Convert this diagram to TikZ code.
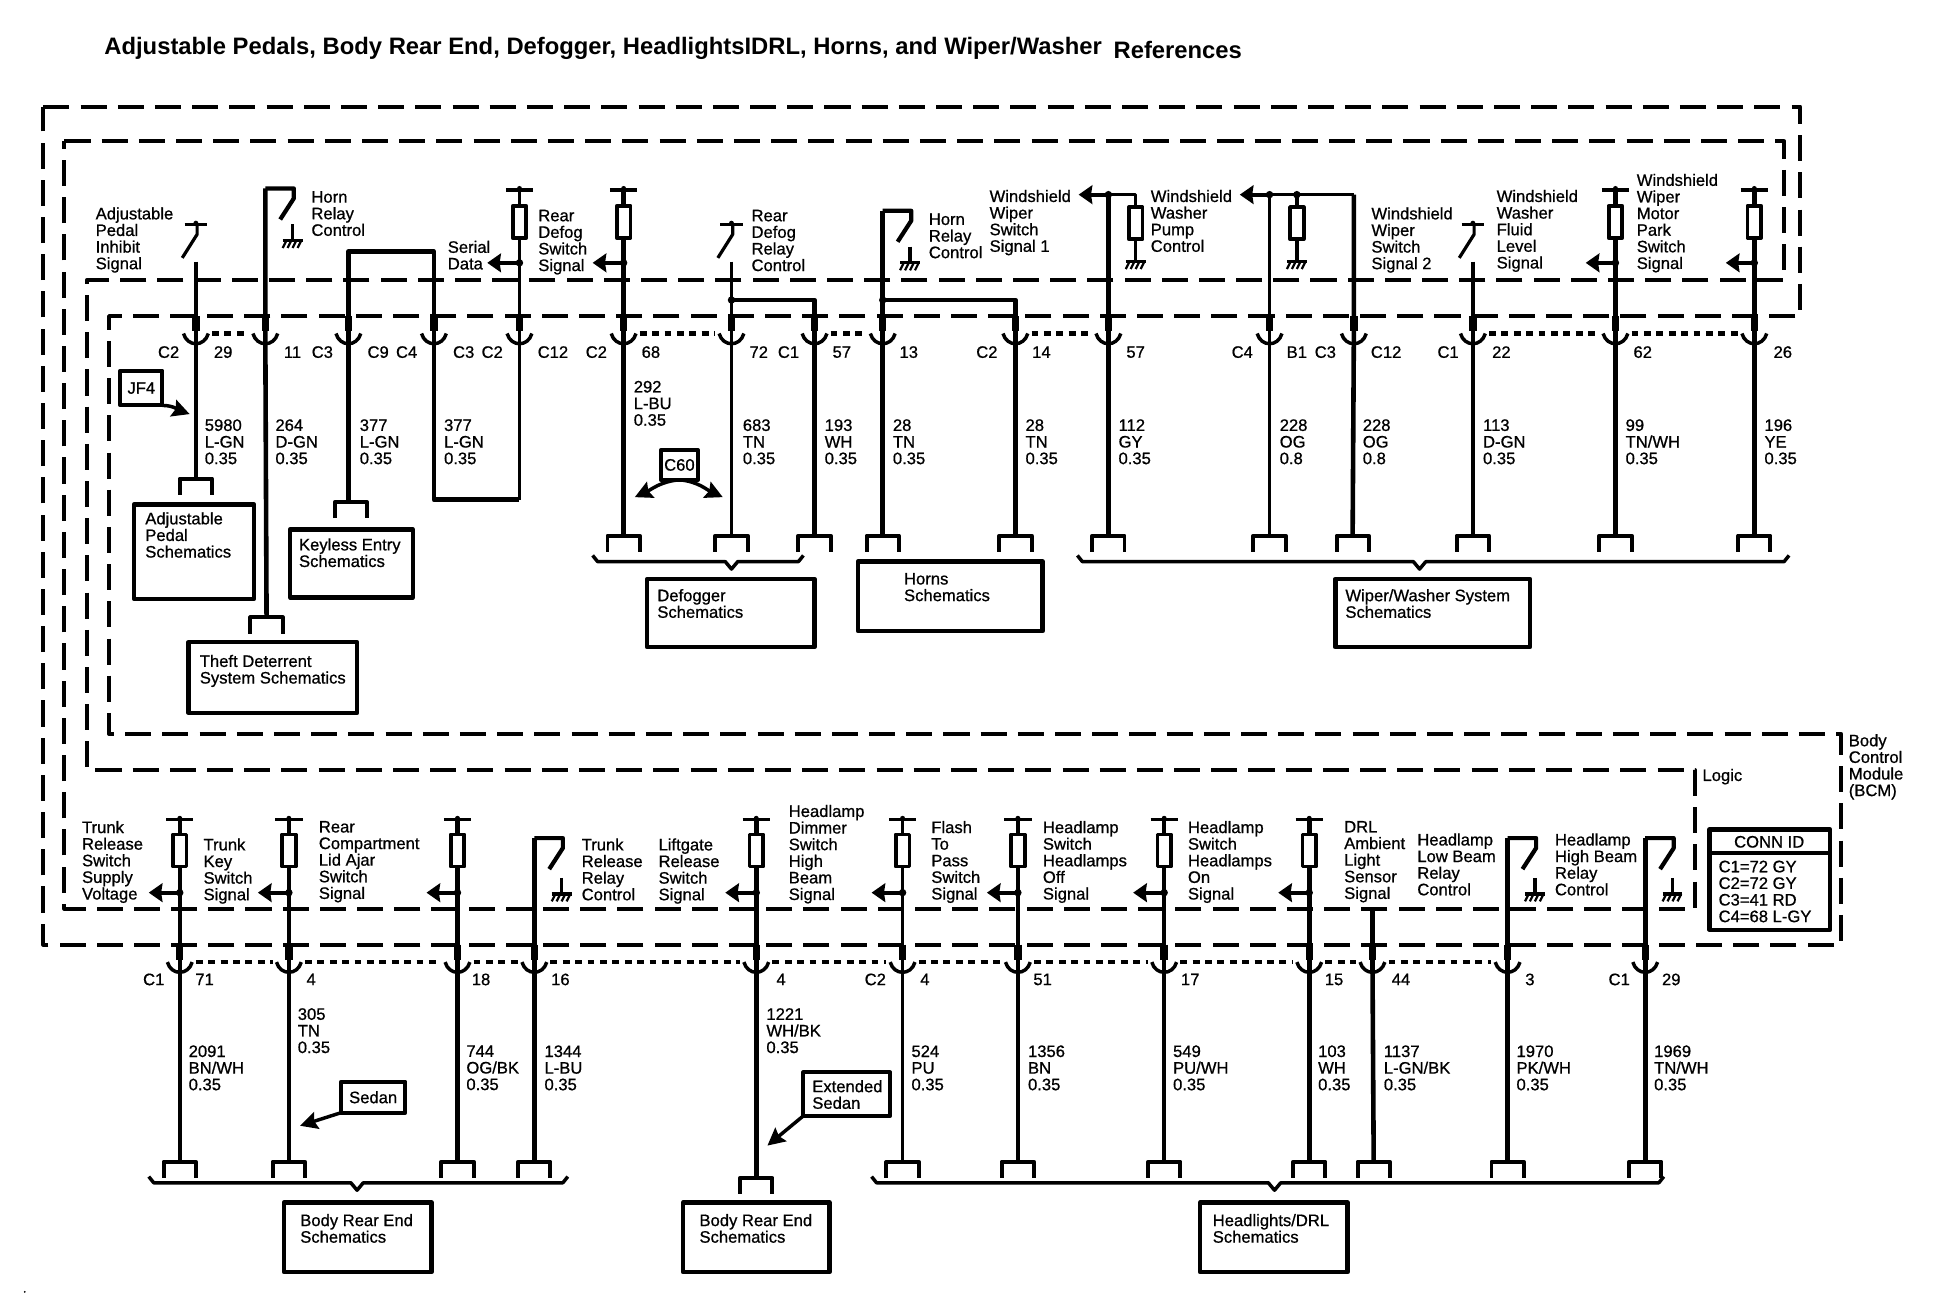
\documentclass[tikz,border=0pt]{standalone}
\usepackage{fontspec}
\usetikzlibrary{arrows.meta}
\newfontfamily\wirefont[FakeBold=0.8]{Liberation Sans}
\newfontfamily\titlefont{Liberation Sans Bold}

\begin{document}
\begin{tikzpicture}[
  x=1pt, y=-1pt,
  line join=round,
  lbl/.style={anchor=north west, inner sep=0pt, align=left, font=\wirefont\fontsize{13.4}{13.4}\selectfont},
  pinlbl/.style={inner sep=0pt, font=\wirefont\fontsize{13.4}{13.4}\selectfont},
  outline/.style={draw, line width=3.2pt, dash pattern=on 21pt off 9pt},
  wire/.style={draw, line width=3.7pt},
  thinwire/.style={draw, line width=2.8pt},
  shell/.style={draw, line width=3.4pt, dash pattern=on 5.5pt off 4.5pt, shorten <=13pt, shorten >=13pt},
  fuse/.style={rectangle, draw, line width=3pt, fill=white, minimum width=11pt, minimum height=26pt, inner sep=0pt},
  schem/.style={rectangle, draw, line width=3.6pt, fill=white, outer sep=0pt},
  tagbox/.style={rectangle, draw, line width=3.2pt, fill=white, outer sep=0pt},
  sig/.style={draw, line width=3pt, -{Stealth[length=11pt,width=15pt,inset=1pt]}},
  callout/.style={draw, line width=2.8pt, -{Stealth[length=14pt,width=14pt,inset=2pt]}},
  brace/.style={draw, line width=2.8pt},
  cup/.pic={
    \draw[line width=6pt] (0,-14) -- (0,-2);
    \draw[line width=2.8pt] (-10,0) .. controls (-7,11) and (7,11) .. (10,0);
  },
  brk/.pic={\draw[line width=3.2pt] (-13,13) -- (-13,0) -- (13,0) -- (13,13);},
  tbar/.pic={
    \draw[line width=3pt] (-11,0) -- (11,0);
    \fill (0,-1) circle (2);
  },
  blade/.pic={
    \draw[line width=3pt] (-9,0) -- (9,0);
    \fill (0,-1) circle (2);
    \draw[line width=2.6pt] (1,0) -- (1,8) -- (-11,27);
  },
  relay/.pic={\draw[line width=3.4pt] (0,0) -- (23,0) -- (23,8) -- (12,25);},
  gnd/.pic={
    \draw[line width=2.8pt] (0,0) -- (0,13);
    \draw[line width=2.6pt] (-8,13) -- (8,13);
    \draw[line width=1.8pt] (-5,13) -- (-8,19) (-1,13) -- (-4,19) (3,13) -- (0,19) (7,13) -- (4,19);
  },
  sdot/.pic={\fill (0,0) circle (3);}
]
\useasboundingbox (0,0) rectangle (1568,1058.2);

% Title
\node[anchor=base west, inner sep=0pt, font=\titlefont\fontsize{19.2}{20}\selectfont] (title) at (84,44) {Adjustable Pedals, Body Rear End, Defogger, HeadlightsIDRL, Horns, and Wiper/Washer};
\node[anchor=base west, inner sep=0pt, font=\titlefont\fontsize{19.2}{20}\selectfont] (title2) at (898,47) {References};

% Module outlines
\draw[outline] (35,86) -- (1452,86) -- (1452,255) -- (88,255) -- (88,592) -- (1485,592) -- (1485,762) -- (35,762) -- cycle;
\draw[outline] (52,114) -- (1439,114) -- (1439,226) -- (70,226) -- (70,621) -- (1367,621) -- (1367,733) -- (52,733) -- cycle;
\node[lbl] (logic) at (1373,620) {Logic};
\node[lbl] (bcm) at (1491,592) {Body\\Control\\Module\\(BCM)};

% Upper connector pins
\coordinate (p1) at (158,269);  \coordinate (p2) at (214,269);  \coordinate (p3) at (281,269);  \coordinate (p4) at (350,269);
\coordinate (p5) at (419,269);  \coordinate (p6) at (503,269);  \coordinate (p7) at (590,269);  \coordinate (p8) at (657,269);
\coordinate (p9) at (712,269);  \coordinate (p10) at (819,269); \coordinate (p11) at (894,269); \coordinate (p12) at (1024,269);
\coordinate (p13) at (1092,269);\coordinate (p14) at (1188,269);\coordinate (p15) at (1303,269);\coordinate (p16) at (1415,269);
\draw[shell] (p1) -- (p2);
\draw[shell] (p6) -- (p7);
\draw[shell] (p8) -- (p9);
\draw[shell] (p10) -- (p11);
\draw[shell] (p14) -- (p15);
\draw[shell] (p15) -- (p16);
\pic at (p1) {cup}; \pic at (p2) {cup}; \pic at (p3) {cup}; \pic at (p4) {cup};
\pic at (p5) {cup}; \pic at (p6) {cup}; \pic at (p7) {cup}; \pic at (p8) {cup};
\pic at (p9) {cup}; \pic at (p10) {cup}; \pic at (p11) {cup}; \pic at (p12) {cup};
\pic at (p13) {cup}; \pic at (p14) {cup}; \pic at (p15) {cup}; \pic at (p16) {cup};

% Upper brackets
\coordinate (b1) at (158,386);  \coordinate (b2) at (215,498);  \coordinate (b3) at (283,405);
\coordinate (b6) at (503,432);  \coordinate (b7) at (590,432);  \coordinate (b8) at (657,432);  \coordinate (b9) at (712,432);
\coordinate (b10) at (819,432); \coordinate (b11) at (894,432); \coordinate (b12) at (1024,432);\coordinate (b13) at (1091,432);
\coordinate (b14) at (1188,432);\coordinate (b15) at (1303,432);\coordinate (b16) at (1415,432);
\pic at (b1) {brk}; \pic at (b2) {brk}; \pic at (b3) {brk}; \pic at (b6) {brk}; \pic at (b7) {brk}; \pic at (b8) {brk}; \pic at (b9) {brk};
\pic at (b10) {brk}; \pic at (b11) {brk}; \pic at (b12) {brk}; \pic at (b13) {brk}; \pic at (b14) {brk}; \pic at (b15) {brk}; \pic at (b16) {brk};

% Adjustable pedal, horn relay
\coordinate (t1) at (158,181); \coordinate (s1) at (158,211);
\pic at (t1) {blade};
\draw[thinwire] (s1) -- (p1) -- (b1);
\coordinate (t2) at (214,152); \coordinate (g2) at (236,181);
\pic at (t2) {relay}; \pic at (g2) {gnd};
\draw[wire] (t2) -- (p2) -- (b2);

% Keyless entry loop and serial data
\coordinate (k3) at (281,203); \coordinate (k4) at (350,203); \coordinate (k5) at (350,403); \coordinate (k6) at (419,403);
\draw[wire] (b3 -| p3) -- (p3) -- (k3) -- (k4) -- (p4) -- (k5) -- (k6);
\coordinate (t5) at (419,153); \node[fuse] (r5) at (419,179) {}; \coordinate (d5) at (419,212); \coordinate (a5) at (393,212);
\pic at (t5) {tbar};
\draw[thinwire] (t5) -- (r5) -- (p5) -- (k6);
\draw[sig] (d5) -- (a5); \pic at (d5) {sdot};
\coordinate (t6) at (503,153); \node[fuse] (r6) at (503,179) {}; \coordinate (d6) at (503,212); \coordinate (a6) at (478,212);
\pic at (t6) {tbar};
\draw[wire] (t6) -- (r6) -- (p6) -- (b6);
\draw[sig] (d6) -- (a6); \pic at (d6) {sdot};

% Defogger relay, horn relay
\coordinate (t7) at (590,181); \coordinate (s7) at (590,211); \coordinate (d7) at (590,242); \coordinate (k8) at (657,242);
\pic at (t7) {blade};
\draw[thinwire] (s7) -- (p7) -- (b7);
\draw[wire] (d7) -- (k8) -- (p8) -- (b8); \pic at (d7) {sdot};
\coordinate (t9) at (712,170); \coordinate (g9) at (734,199); \coordinate (d9) at (712,242); \coordinate (k10) at (819,242);
\pic at (t9) {relay}; \pic at (g9) {gnd};
\draw[wire] (t9) -- (p9) -- (b9);
\draw[wire] (d9) -- (k10) -- (p10) -- (b10); \pic at (d9) {sdot};

% Wiper switch signals and washer pump
\coordinate (d11) at (894,157); \coordinate (a11) at (870,157); \coordinate (k11) at (916,157); \node[fuse] (r11) at (916,180) {}; \coordinate (g11) at (916,198);
\draw[wire] (d11) -- (p11) -- (b11);
\draw[thinwire] (d11) -- (k11) -- (r11) -- (g11); \pic at (g11) {gnd};
\draw[sig] (d11) -- (a11); \pic at (d11) {sdot};
\coordinate (d12) at (1024,157); \coordinate (a12) at (1000,157); \coordinate (k12) at (1046,157); \node[fuse] (r12) at (1046,180) {}; \coordinate (g12) at (1046,198); \coordinate (k13) at (1092,157);
\draw[thinwire] (d12) -- (p12) -- (b12);
\draw[thinwire] (k12) -- (r12) -- (g12); \pic at (g12) {gnd};
\draw[thinwire] (d12) -- (k13);
\draw[wire] (k13) -- (p13) -- (b13);
\draw[sig] (d12) -- (a12); \pic at (d12) {sdot}; \pic at (k12) {sdot};

% Washer fluid, wiper motor park
\coordinate (t14) at (1188,181); \coordinate (s14) at (1188,211);
\pic at (t14) {blade};
\draw[thinwire] (s14) -- (p14) -- (b14);
\coordinate (t15) at (1303,153); \node[fuse] (r15) at (1303,179) {}; \coordinate (d15) at (1303,212); \coordinate (a15) at (1279,212);
\pic at (t15) {tbar};
\draw[wire] (t15) -- (r15) -- (p15) -- (b15);
\draw[sig] (d15) -- (a15); \pic at (d15) {sdot};
\coordinate (t16) at (1415,153); \node[fuse] (r16) at (1415,179) {}; \coordinate (d16) at (1415,212); \coordinate (a16) at (1392,212);
\pic at (t16) {tbar};
\draw[wire] (t16) -- (r16) -- (p16) -- (b16);
\draw[sig] (d16) -- (a16); \pic at (d16) {sdot};

% Upper signal names
\node[lbl] (n1) at (77,167) {Adjustable\\Pedal\\Inhibit\\Signal};
\node[lbl] (n2) at (251,154) {Horn\\Relay\\Control};
\node[lbl] (n3) at (361,194) {Serial\\Data};
\node[lbl] (n4) at (434,169) {Rear\\Defog\\Switch\\Signal};
\node[lbl] (n5) at (606,169) {Rear\\Defog\\Relay\\Control};
\node[lbl] (n6) at (749,172) {Horn\\Relay\\Control};
\node[lbl] (n7) at (798,153) {Windshield\\Wiper\\Switch\\Signal 1};
\node[lbl] (n8) at (928,153) {Windshield\\Washer\\Pump\\Control};
\node[lbl] (n9) at (1106,167) {Windshield\\Wiper\\Switch\\Signal 2};
\node[lbl] (n10) at (1207,153) {Windshield\\Washer\\Fluid\\Level\\Signal};
\node[lbl] (n11) at (1320,140) {Windshield\\Wiper\\Motor\\Park\\Switch\\Signal};

% Upper connector names
\node[pinlbl] (u1) at (136,284) {C2};  \node[pinlbl] (u2) at (180,284) {29};
\node[pinlbl] (u3) at (236,284) {11};  \node[pinlbl] (u4) at (260,284) {C3};
\node[pinlbl] (u5) at (305,284) {C9};  \node[pinlbl] (u6) at (328,284) {C4};
\node[pinlbl] (u7) at (374,284) {C3};  \node[pinlbl] (u8) at (397,284) {C2};
\node[pinlbl] (u9) at (446,284) {C12}; \node[pinlbl] (u10) at (481,284) {C2};
\node[pinlbl] (u11) at (525,284) {68}; \node[pinlbl] (u12) at (612,284) {72};
\node[pinlbl] (u13) at (636,284) {C1}; \node[pinlbl] (u14) at (679,284) {57};
\node[pinlbl] (u15) at (733,284) {13}; \node[pinlbl] (u16) at (796,284) {C2};
\node[pinlbl] (u17) at (840,284) {14}; \node[pinlbl] (u18) at (916,284) {57};
\node[pinlbl] (u19) at (1002,284) {C4};\node[pinlbl] (u20) at (1046,284) {B1};
\node[pinlbl] (u21) at (1069,284) {C3};\node[pinlbl] (u22) at (1118,284) {C12};
\node[pinlbl] (u23) at (1168,284) {C1};\node[pinlbl] (u24) at (1211,284) {22};
\node[pinlbl] (u25) at (1325,284) {62};\node[pinlbl] (u26) at (1438,284) {26};

% Upper wire names
\node[lbl] (w1) at (165,338) {5980\\L-GN\\0.35};
\node[lbl] (w2) at (222,338) {264\\D-GN\\0.35};
\node[lbl] (w3) at (290,338) {377\\L-GN\\0.35};
\node[lbl] (w4) at (358,338) {377\\L-GN\\0.35};
\node[lbl] (w6) at (511,307) {292\\L-BU\\0.35};
\node[lbl] (w7) at (599,338) {683\\TN\\0.35};
\node[lbl] (w8) at (665,338) {193\\WH\\0.35};
\node[lbl] (w9) at (720,338) {28\\TN\\0.35};
\node[lbl] (w10) at (827,338) {28\\TN\\0.35};
\node[lbl] (w11) at (902,338) {112\\GY\\0.35};
\node[lbl] (w12) at (1032,338) {228\\OG\\0.8};
\node[lbl] (w13) at (1099,338) {228\\OG\\0.8};
\node[lbl] (w14) at (1196,338) {113\\D-GN\\0.35};
\node[lbl] (w15) at (1311,338) {99\\TN/WH\\0.35};
\node[lbl] (w16) at (1423,338) {196\\YE\\0.35};

% Callouts
\node[tagbox, minimum width=34pt, minimum height=28pt, inner sep=0pt, font=\wirefont\fontsize{13.4}{13.4}\selectfont] (jf4) at (114,313) {JF4};
\coordinate (jf4a) at (131,327); \coordinate (jf4b) at (153,334);
\draw[callout] (jf4a) to[out=0,in=160] (jf4b);
\node[tagbox, minimum width=30pt, minimum height=24pt, inner sep=0pt, font=\wirefont\fontsize{13.4}{13.4}\selectfont] (c60) at (548,375) {C60};
\coordinate (c60l) at (512,401); \coordinate (c60r) at (583,401);
\draw[callout] (c60.south) to[out=185,in=25] (c60l);
\draw[callout] (c60.south) to[out=-5,in=155] (c60r);

% Upper schematic boxes
\node[schem, anchor=north west, minimum width=97pt, minimum height=76pt] (adjbox) at (108,407) {};
\node[lbl] (adjtxt) at (117,413) {Adjustable\\Pedal\\Schematics};
\node[schem, anchor=north west, minimum width=99pt, minimum height=55pt] (keybox) at (234,427) {};
\node[lbl] (keytxt) at (241,434) {Keyless Entry\\Schematics};
\node[schem, anchor=north west, minimum width=136pt, minimum height=57pt] (theftbox) at (152,518) {};
\node[lbl] (thefttxt) at (161,528) {Theft Deterrent\\System Schematics};
\node[schem, anchor=north west, minimum width=135pt, minimum height=55pt] (defbox) at (522,467) {};
\node[lbl] (deftxt) at (530,475) {Defogger\\Schematics};
\node[schem, anchor=north west, minimum width=149pt, minimum height=56pt] (hornbox) at (692,453) {};
\node[lbl] (horntxt) at (729,462) {Horns\\Schematics};
\node[schem, anchor=north west, minimum width=157pt, minimum height=55pt] (wipbox) at (1077,467) {};
\node[lbl] (wiptxt) at (1085,475) {Wiper/Washer System\\Schematics};

% Upper braces
\coordinate (f1) at (478,448); \coordinate (f2) at (482,453); \coordinate (f3) at (585,453); \coordinate (f4) at (590,459); \coordinate (f5) at (595,453); \coordinate (f6) at (644,453); \coordinate (f7) at (648,448);
\draw[brace] (f1) -- (f2) -- (f3) -- (f4) -- (f5) -- (f6) -- (f7);
\coordinate (h1) at (869,448); \coordinate (h2) at (873,453); \coordinate (h3) at (1140,453); \coordinate (h4) at (1145,459); \coordinate (h5) at (1150,453); \coordinate (h6) at (1439,453); \coordinate (h7) at (1443,448);
\draw[brace] (h1) -- (h2) -- (h3) -- (h4) -- (h5) -- (h6) -- (h7);

% Lower connector pins
\coordinate (q1) at (145,776);  \coordinate (q2) at (233,776);  \coordinate (q3) at (369,776);  \coordinate (q4) at (431,776);
\coordinate (q5) at (610,776);  \coordinate (q6) at (728,776);  \coordinate (q7) at (821,776);  \coordinate (q8) at (939,776);
\coordinate (q9) at (1056,776); \coordinate (q10) at (1107,776);\coordinate (q11) at (1216,776);\coordinate (q12) at (1327,776);
\draw[shell] (q1) -- (q2);
\draw[shell] (q2) -- (q3);
\draw[shell] (q3) -- (q4);
\draw[shell] (q4) -- (q5);
\draw[shell] (q5) -- (q6);
\draw[shell] (q6) -- (q7);
\draw[shell] (q7) -- (q8);
\draw[shell] (q8) -- (q9);
\draw[shell] (q9) -- (q10);
\draw[shell] (q10) -- (q11);
\pic at (q1) {cup}; \pic at (q2) {cup}; \pic at (q3) {cup}; \pic at (q4) {cup}; \pic at (q5) {cup}; \pic at (q6) {cup};
\pic at (q7) {cup}; \pic at (q8) {cup}; \pic at (q9) {cup}; \pic at (q10) {cup}; \pic at (q11) {cup}; \pic at (q12) {cup};

% Lower brackets
\coordinate (e1) at (145,937);  \coordinate (e2) at (233,937);  \coordinate (e3) at (369,937);  \coordinate (e4) at (431,937);
\coordinate (e5) at (610,950);  \coordinate (e6) at (728,937);  \coordinate (e7) at (821,937);  \coordinate (e8) at (939,937);
\coordinate (e9) at (1056,937); \coordinate (e10) at (1108,937);\coordinate (e11) at (1216,937);\coordinate (e12) at (1327,937);
\pic at (e1) {brk}; \pic at (e2) {brk}; \pic at (e3) {brk}; \pic at (e4) {brk}; \pic at (e5) {brk}; \pic at (e6) {brk};
\pic at (e7) {brk}; \pic at (e8) {brk}; \pic at (e9) {brk}; \pic at (e10) {brk}; \pic at (e11) {brk}; \pic at (e12) {brk};

% Lower feeds
\coordinate (v1) at (145,661); \node[fuse] (z1) at (145,686) {}; \coordinate (x1) at (145,720); \coordinate (y1) at (120,720);
\pic at (v1) {tbar}; \draw[thinwire] (v1) -- (z1) -- (q1) -- (e1); \draw[sig] (x1) -- (y1); \pic at (x1) {sdot};
\coordinate (v2) at (233,661); \node[fuse] (z2) at (233,686) {}; \coordinate (x2) at (233,720); \coordinate (y2) at (208,720);
\pic at (v2) {tbar}; \draw[wire] (v2) -- (z2) -- (q2) -- (e2); \draw[sig] (x2) -- (y2); \pic at (x2) {sdot};
\coordinate (v3) at (369,661); \node[fuse] (z3) at (369,686) {}; \coordinate (x3) at (369,720); \coordinate (y3) at (344,720);
\pic at (v3) {tbar}; \draw[wire] (v3) -- (z3) -- (q3) -- (e3); \draw[sig] (x3) -- (y3); \pic at (x3) {sdot};
\coordinate (v4) at (431,676); \coordinate (g4) at (453,708);
\pic at (v4) {relay}; \pic at (g4) {gnd}; \draw[wire] (v4) -- (q4) -- (e4);
\coordinate (v5) at (610,661); \node[fuse] (z5) at (610,686) {}; \coordinate (x5) at (610,720); \coordinate (y5) at (585,720);
\pic at (v5) {tbar}; \draw[wire] (v5) -- (z5) -- (q5) -- (e5); \draw[sig] (x5) -- (y5); \pic at (x5) {sdot};
\coordinate (v6) at (728,661); \node[fuse] (z6) at (728,686) {}; \coordinate (x6) at (728,720); \coordinate (y6) at (703,720);
\pic at (v6) {tbar}; \draw[thinwire] (v6) -- (z6) -- (q6) -- (e6); \draw[sig] (x6) -- (y6); \pic at (x6) {sdot};
\coordinate (v7) at (821,661); \node[fuse] (z7) at (821,686) {}; \coordinate (x7) at (821,720); \coordinate (y7) at (796,720);
\pic at (v7) {tbar}; \draw[wire] (v7) -- (z7) -- (q7) -- (e7); \draw[sig] (x7) -- (y7); \pic at (x7) {sdot};
\coordinate (v8) at (939,661); \node[fuse] (z8) at (939,686) {}; \coordinate (x8) at (939,720); \coordinate (y8) at (914,720);
\pic at (v8) {tbar}; \draw[wire] (v8) -- (z8) -- (q8) -- (e8); \draw[sig] (x8) -- (y8); \pic at (x8) {sdot};
\coordinate (v9) at (1056,661); \node[fuse] (z9) at (1056,686) {}; \coordinate (x9) at (1056,720); \coordinate (y9) at (1031,720);
\pic at (v9) {tbar}; \draw[wire] (v9) -- (z9) -- (q9) -- (e9); \draw[sig] (x9) -- (y9); \pic at (x9) {sdot};
\coordinate (v10) at (1107,733);
\draw[wire] (v10) -- (q10) -- (e10);
\coordinate (v11) at (1216,676); \coordinate (g11b) at (1238,708);
\pic at (v11) {relay}; \pic at (g11b) {gnd}; \draw[wire] (v11) -- (q11) -- (e11);
\coordinate (v12) at (1327,676); \coordinate (g12b) at (1349,708);
\pic at (v12) {relay}; \pic at (g12b) {gnd}; \draw[wire] (v12) -- (q12) -- (e12);

% Lower signal names
\node[lbl] (m1) at (66,662) {Trunk\\Release\\Switch\\Supply\\Voltage};
\node[lbl] (m2) at (164,676) {Trunk\\Key\\Switch\\Signal};
\node[lbl] (m3) at (257,662) {Rear\\Compartment\\Lid Ajar\\Switch\\Signal};
\node[lbl] (m4) at (469,676) {Trunk\\Release\\Relay\\Control};
\node[lbl] (m5) at (531,676) {Liftgate\\Release\\Switch\\Signal};
\node[lbl] (m6) at (636,649) {Headlamp\\Dimmer\\Switch\\High\\Beam\\Signal};
\node[lbl] (m7) at (751,662) {Flash\\To\\Pass\\Switch\\Signal};
\node[lbl] (m8) at (841,662) {Headlamp\\Switch\\Headlamps\\Off\\Signal};
\node[lbl] (m9) at (958,662) {Headlamp\\Switch\\Headlamps\\On\\Signal};
\node[lbl] (m10) at (1084,662) {DRL\\Ambient\\Light\\Sensor\\Signal};
\node[lbl] (m11) at (1143,672) {Headlamp\\Low Beam\\Relay\\Control};
\node[lbl] (m12) at (1254,672) {Headlamp\\High Beam\\Relay\\Control};

% Lower connector names
\node[pinlbl] (l1) at (124,790) {C1};  \node[pinlbl] (l2) at (165,790) {71};
\node[pinlbl] (l3) at (251,790) {4};   \node[pinlbl] (l4) at (388,790) {18};
\node[pinlbl] (l5) at (452,790) {16};  \node[pinlbl] (l6) at (630,790) {4};
\node[pinlbl] (l7) at (706,790) {C2};  \node[pinlbl] (l8) at (746,790) {4};
\node[pinlbl] (l9) at (841,790) {51};  \node[pinlbl] (l10) at (960,790) {17};
\node[pinlbl] (l11) at (1076,790) {15};\node[pinlbl] (l12) at (1130,790) {44};
\node[pinlbl] (l13) at (1234,790) {3}; \node[pinlbl] (l14) at (1306,790) {C1};
\node[pinlbl] (l15) at (1348,790) {29};

% Lower wire names
\node[lbl] (o1) at (152,843) {2091\\BN/WH\\0.35};
\node[lbl] (o2) at (240,813) {305\\TN\\0.35};
\node[lbl] (o3) at (376,843) {744\\OG/BK\\0.35};
\node[lbl] (o4) at (439,843) {1344\\L-BU\\0.35};
\node[lbl] (o5) at (618,813) {1221\\WH/BK\\0.35};
\node[lbl] (o6) at (735,843) {524\\PU\\0.35};
\node[lbl] (o7) at (829,843) {1356\\BN\\0.35};
\node[lbl] (o8) at (946,843) {549\\PU/WH\\0.35};
\node[lbl] (o9) at (1063,843) {103\\WH\\0.35};
\node[lbl] (o10) at (1116,843) {1137\\L-GN/BK\\0.35};
\node[lbl] (o11) at (1223,843) {1970\\PK/WH\\0.35};
\node[lbl] (o12) at (1334,843) {1969\\TN/WH\\0.35};

% Sedan callouts
\node[tagbox, minimum width=52pt, minimum height=25pt, inner sep=0pt, font=\wirefont\fontsize{13.4}{13.4}\selectfont] (sedan) at (301,885) {Sedan};
\coordinate (sedana) at (242,908);
\draw[callout] (sedan.south west) -- (sedana);
\node[tagbox, anchor=north west, minimum width=70pt, minimum height=35pt] (extbox) at (648,865) {};
\node[lbl] (exttxt) at (655,871) {Extended\\Sedan};
\coordinate (exta) at (619,924);
\draw[callout] (extbox.south west) -- (exta);

% Lower braces
\coordinate (j1) at (120,949); \coordinate (j2) at (124,954); \coordinate (j3) at (283,954); \coordinate (j4) at (288,960); \coordinate (j5) at (293,954); \coordinate (j6) at (454,954); \coordinate (j7) at (458,949);
\draw[brace] (j1) -- (j2) -- (j3) -- (j4) -- (j5) -- (j6) -- (j7);
\coordinate (i1) at (703,949); \coordinate (i2) at (707,954); \coordinate (i3) at (1023,954); \coordinate (i4) at (1028,960); \coordinate (i5) at (1033,954); \coordinate (i6) at (1338,954); \coordinate (i7) at (1342,949);
\draw[brace] (i1) -- (i2) -- (i3) -- (i4) -- (i5) -- (i6) -- (i7);

% Lower schematic boxes
\node[schem, anchor=north west, minimum width=119pt, minimum height=56pt] (rearbox) at (229,970) {};
\node[lbl] (reartxt) at (242,979) {Body Rear End\\Schematics};
\node[schem, anchor=north west, minimum width=118pt, minimum height=56pt] (rearbox2) at (551,970) {};
\node[lbl] (reartxt2) at (564,979) {Body Rear End\\Schematics};
\node[schem, anchor=north west, minimum width=119pt, minimum height=56pt] (drlbox) at (968,970) {};
\node[lbl] (drltxt) at (978,979) {Headlights/DRL\\Schematics};

% Connector table
\node[schem, anchor=north west, minimum width=97pt, minimum height=81pt] (connbox) at (1379,669) {};
\coordinate (connl) at (1379,688); \coordinate (connr) at (1476,688);
\draw[line width=3pt] (connl) -- (connr);
\node[pinlbl] (connhd) at (1427,679) {CONN ID};
\node[lbl] (conntxt) at (1386,694) {C1=72 GY\\C2=72 GY\\C3=41 RD\\C4=68 L-GY};

% Speck
\coordinate (speck) at (20,1042);
\fill (speck) circle (0.8);
\end{tikzpicture}
\end{document}
